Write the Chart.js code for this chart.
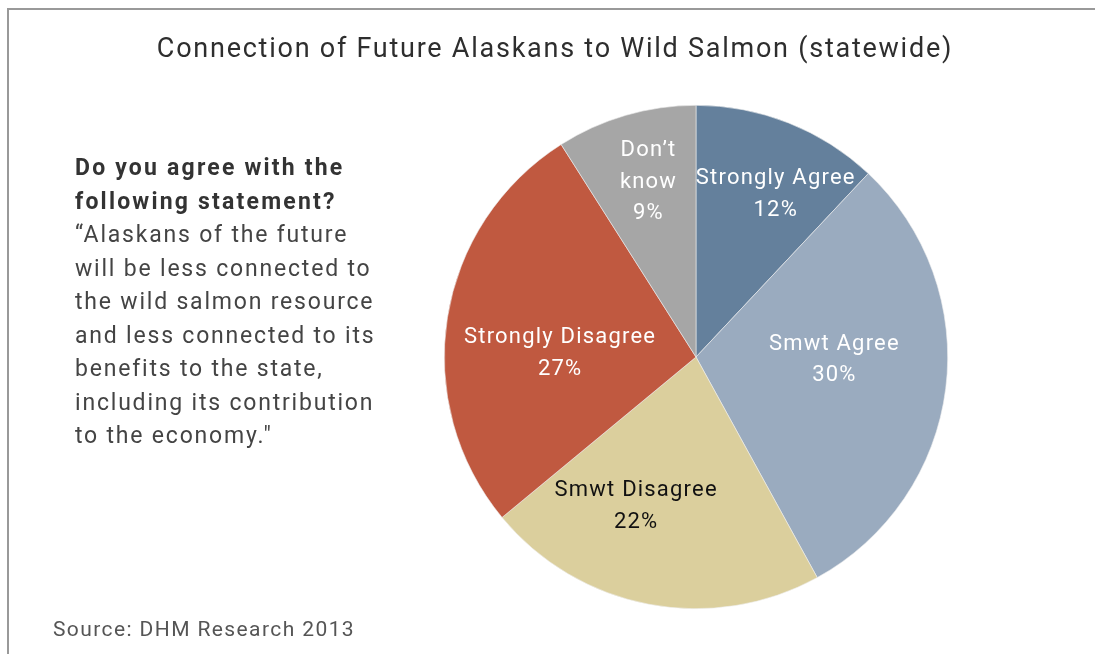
<!DOCTYPE html>
<html>
<head>
<meta charset="utf-8">
<script src="https://cdn.jsdelivr.net/npm/chart.js@4"></script>
<style>
  html, body { margin: 0; padding: 0; background: #fff; }
  #wrap { position: relative; width: 1095px; height: 654px; overflow: hidden; font-family: Roboto, "Noto Sans", sans-serif; }
  #frame { position: absolute; left: 7px; top: 8px; width: 1200px; height: 800px; border-left: 2px solid #999; border-top: 2px solid #999; }
  #title { position: absolute; left: 0; width: 1110px; top: 32px; text-align: center; font-size: 27px; color: #2e2e2e; letter-spacing: 1.75px; }
  #question { position: absolute; left: 75px; top: 151px; font-size: 23px; line-height: 33.5px; color: #444; letter-spacing: 1.8px; }
  #question b { color: #333; font-weight: 700; letter-spacing: 2.2px; }
  #source { position: absolute; left: 53px; top: 617px; font-size: 21px; color: #555; letter-spacing: 1.4px; }
  canvas { position: absolute; left: 0; top: 0; }
</style>
</head>
<body>
<div id="wrap">
  <div id="frame"></div>
  <canvas id="pie" width="1095" height="654"></canvas>
  <div id="title">Connection of Future Alaskans to Wild Salmon (statewide)</div>
  <div id="question">
    <b>Do you agree with the<br>following statement?</b><br>
    “Alaskans of the future<br>will be less connected to<br>the wild salmon resource<br>and less connected to its<br>benefits to the state,<br>including its contribution<br>to the economy."
  </div>
  <div id="source">Source: DHM Research 2013</div>
</div>
<script>
// categories and values, clockwise from 12 o'clock
const categories = ['Strongly Agree', 'Smwt Agree', 'Smwt Disagree', 'Strongly Disagree', "Don’t know"];
const percents = [12, 30, 22, 27, 9];
const sliceColors = ['#64809c', '#9aabbf', '#dbcf9d', '#c05940', '#a6a6a6'];
const textColors = ['#fff', '#fff', '#111', '#fff', '#fff'];
// label lines inside each slice
const labelLines = [
  ['Strongly Agree', '12%'],
  ['Smwt Agree', '30%'],
  ['Smwt Disagree', '22%'],
  ['Strongly Disagree', '27%'],
  ['Don’t', 'know', '9%']
];
// where the label sits: fraction of radius, angle shift in degrees
const labelRadius = [0.72, 0.55, 0.64, 0.54, 0.72];
const labelShift = [4.5, -6, 11, -7.5, 1];

const sliceLabels = {
  id: 'sliceLabels',
  afterDatasetsDraw(chart) {
    const ctx = chart.ctx;
    const arcs = chart.getDatasetMeta(0).data;
    ctx.save();
    ctx.font = '22px Roboto, "Noto Sans", sans-serif';
    ctx.letterSpacing = '1.2px';
    ctx.textAlign = 'center';
    ctx.textBaseline = 'middle';
    arcs.forEach((arc, i) => {
      const p = arc.getProps(['x', 'y', 'startAngle', 'endAngle', 'outerRadius'], true);
      const mid = (p.startAngle + p.endAngle) / 2 + labelShift[i] * Math.PI / 180;
      const r = p.outerRadius * labelRadius[i];
      const cx = p.x + Math.cos(mid) * r;
      const cy = p.y + Math.sin(mid) * r;
      const lines = labelLines[i];
      const lh = 31.5;
      ctx.fillStyle = textColors[i];
      lines.forEach((t, j) => {
        ctx.fillText(t, cx, cy + (j - (lines.length - 1) / 2) * lh);
      });
    });
    ctx.restore();
  }
};

new Chart(document.getElementById('pie'), {
  type: 'pie',
  data: {
    labels: categories,
    datasets: [{
      data: percents,
      backgroundColor: sliceColors,
      borderWidth: 0.6,
      borderColor: '#eeeeee',
      hoverOffset: 0
    }]
  },
  options: {
    responsive: false,
    animation: false,
    layout: { padding: { left: 444, right: 147, top: 105, bottom: 45 } },
    plugins: {
      legend: { display: false },
      tooltip: { enabled: false }
    }
  },
  plugins: [sliceLabels]
});
</script>
</body>
</html>
